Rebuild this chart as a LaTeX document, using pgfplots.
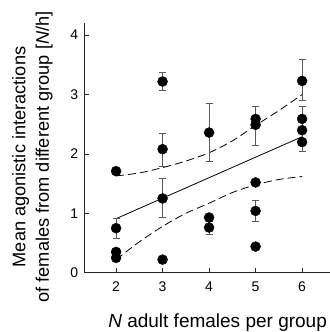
\documentclass[border=0pt]{standalone}
\usepackage{pgfplots}
\pgfplotsset{compat=1.18}
\usepackage{pgfplotstable}
\usepackage{fontspec}
\setmainfont{Liberation Sans}

\pgfplotstableread{
x y ep em
2 1.71 0 0
2 0.75 0.17 0.18
2 0.35 0 0
2 0.25 0 0
3 3.22 0.15 0.15
3 2.08 0.27 0.29
3 1.25 0.33 0.32
3 0.22 0 0
4 2.36 0.49 0.49
4 0.93 0 0
4 0.76 0.10 0.11
5 2.59 0 0
5 2.49 0.31 0.34
5 1.52 0 0
5 1.04 0.17 0.17
5 0.44 0 0
6 3.23 0.36 0.33
6 2.59 0 0
6 2.40 0.40 0.35
6 2.20 0 0
}\ptsdata

\pgfplotstableread{
x y
2 0.91
6 2.29
}\fitdata

\pgfplotstableread{
x y
2 1.63
2.5 1.68
3 1.77
3.5 1.88
4 2.02
4.5 2.22
5 2.48
5.5 2.73
6 3.00
}\ciupperdata

\pgfplotstableread{
x y
2 0.22
2.5 0.52
3 0.78
3.5 1.00
4 1.17
4.5 1.35
5 1.48
5.5 1.57
6 1.62
}\cilowerdata

\begin{document}
\begin{tikzpicture}
\begin{axis}[
  at={(84bp,59.3bp)}, anchor=south west,
  scale only axis, width=246bp, height=249.4bp,
  xmin=1.31, xmax=6.6, ymin=0, ymax=4.2,
  axis x line=bottom, axis y line=left,
  axis line style={-, line width=1bp, black!85},
  xtick={2,3,4,5,6}, ytick={0,1,2,3,4},
  tick align=inside, major tick length=5bp,
  tick style={line width=0.8bp, black!85},
  /pgf/number format/assume math mode=true,
  ticklabel style={font=\fontsize{14bp}{16bp}\selectfont},
  xticklabel style={yshift=-5.5bp},
  yticklabel style={xshift=-2.3bp},
  xlabel={\textit{N} adult females per group},
  xlabel style={font=\fontsize{19bp}{23bp}\selectfont, at={(axis description cs:0.543,-0.218)}, anchor=base},
  ylabel={Mean agonistic interactions\\of females from different group [\textit{N}/h]},
  ylabel style={font=\fontsize{18.2bp}{23.5bp}\selectfont, align=center, at={(axis description cs:-0.21,0.464)}, anchor=center},
  clip=false,
]
\addplot[black, line width=0.8bp] table[x=x,y=y] {\fitdata};
\addplot[black, line width=0.8bp, smooth, dash pattern=on 8bp off 4bp] table[x=x,y=y] {\ciupperdata};
\addplot[black, line width=0.8bp, smooth, dash pattern=on 8bp off 4bp] table[x=x,y=y] {\cilowerdata};
\addplot[only marks, mark=*, mark size=5bp, mark options={fill=black, draw=black},
  error bars/.cd, y dir=both, y explicit,
  error bar style={line width=0.9bp, black!65},
  error mark options={rotate=90, mark size=3.5bp, line width=0.9bp, black!65}]
  table[x=x, y=y, y error plus=ep, y error minus=em] {\ptsdata};
\end{axis}
\pgfresetboundingbox
\path (0,0) rectangle (330bp,332bp);
\end{tikzpicture}
\end{document}
